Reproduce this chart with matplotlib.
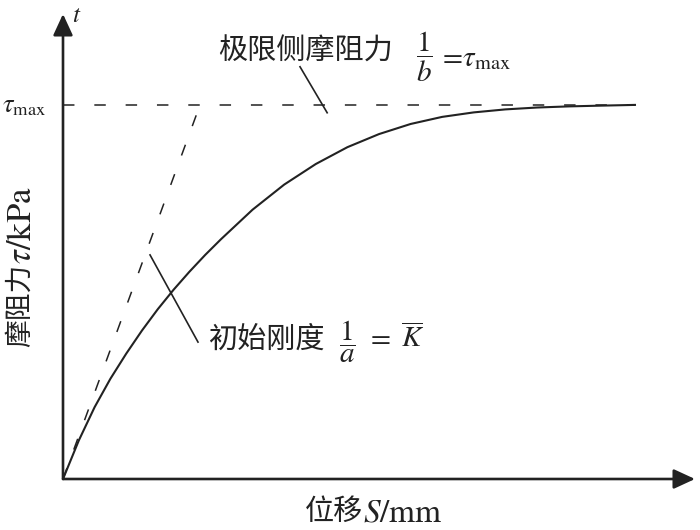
import numpy as np
import matplotlib.pyplot as plt

plt.rcParams['font.family'] = ['Noto Sans CJK SC', 'DejaVu Sans']
plt.rcParams['mathtext.fontset'] = 'stix'

# curve (S in arbitrary units, tau normalised by tau_max)
s_curve = [0.0, 0.25, 0.5, 0.75, 1.0, 1.25, 1.5, 1.75, 2.0, 2.25, 2.5,
           3.0, 3.5, 4.0, 4.5, 5.0, 5.5, 6.0, 6.5, 7.0, 7.5, 8.0, 8.5, 9.05]
tau_curve = [0.0, 0.103, 0.192, 0.268, 0.335, 0.397, 0.454, 0.506, 0.554, 0.599, 0.641,
             0.720, 0.787, 0.842, 0.887, 0.922, 0.949, 0.968, 0.980, 0.988, 0.993,
             0.996, 0.998, 1.0]

tau_max = 1.0
s_tangent = [0.0, 2.168]       # initial stiffness line, reaches tau_max here
tau_tangent = [0.0, tau_max]
s_limit = [0.0, 9.05]          # ultimate side friction line
tau_limit = [tau_max, tau_max]

# leader lines of the two notes
s_lead_top = [3.75, 4.18]
tau_lead_top = [1.102, 0.979]
s_lead_low = [1.377, 2.136]
tau_lead_low = [0.599, 0.366]

s_axis_end = 10.0
tau_axis_end = 1.243

c = '#222222'
fig = plt.figure(figsize=(7, 5.3), dpi=100)
ax = fig.add_axes([63 / 700, 51 / 530, 632 / 700, 465 / 530])
ax.set_xlim(0, s_axis_end)
ax.set_ylim(0, tau_axis_end)
ax.axis('off')

# axes with arrows
arr = dict(arrowstyle='-|>,head_length=0.65,head_width=0.3', mutation_scale=20,
           lw=1.9, color=c, shrinkA=0, shrinkB=0)
ax.annotate('', xy=(s_axis_end, 0), xytext=(0, 0), arrowprops=arr, annotation_clip=False)
ax.annotate('', xy=(0, tau_axis_end), xytext=(0, 0), arrowprops=arr, annotation_clip=False)

ax.plot(s_curve, tau_curve, color=c, lw=1.5, solid_joinstyle='round')
ax.plot(s_tangent, tau_tangent, color=c, lw=1.1, dashes=(7.5, 13))
ax.plot(s_limit, tau_limit, color=c, lw=1.1, dashes=(7.5, 13))
ax.plot(s_lead_top, tau_lead_top, color=c, lw=1.2)
ax.plot(s_lead_low, tau_lead_low, color=c, lw=1.2)

# texts
ax.text(0.22, 1.274, '$t$', fontsize=18, ha='center', va='top', color=c)
ax.text(-0.27, 1.0, r'$\tau_{\max}$', fontsize=19, ha='right', va='center', color=c)

ax.text(2.453, 1.142, '极限侧摩阻力', fontsize=21, ha='left', va='center', color=c)
ax.text(5.712, 1.128, r'$\dfrac{1}{b}$', fontsize=21, ha='center', va='center', color=c)
ax.text(5.93, 1.124, r'$=\!\tau_{\max}$', fontsize=21, ha='left', va='center', color=c)

ax.text(2.294, 0.372, '初始刚度', fontsize=21, ha='left', va='center', color=c)
ax.text(4.494, 0.366, r'$\dfrac{1}{a}$', fontsize=21, ha='center', va='center', color=c)
ax.text(4.80, 0.372, r'$=\ \overline{K}$', fontsize=21, ha='left', va='center', color=c)

# axis titles: Chinese part and math part side by side
t1 = fig.text(305 / 700, 1 - 512 / 530, '位移', fontsize=21, ha='left', va='center', color=c)
ax.annotate(r'$S/\mathrm{mm}$', xy=(1, 0.5), xycoords=t1, fontsize=24,
            ha='left', va='center', color=c, annotation_clip=False)

t2 = fig.text(20 / 700, 1 - 347 / 530, '摩阻力', fontsize=20, rotation=90,
              ha='center', va='bottom', color=c)
ax.annotate(r'$\tau/\mathrm{kPa}$', xy=(0.55, 1), xycoords=t2, fontsize=25, rotation=90,
            ha='center', va='bottom', color=c, annotation_clip=False)

fig.savefig('out.png', dpi=100)
